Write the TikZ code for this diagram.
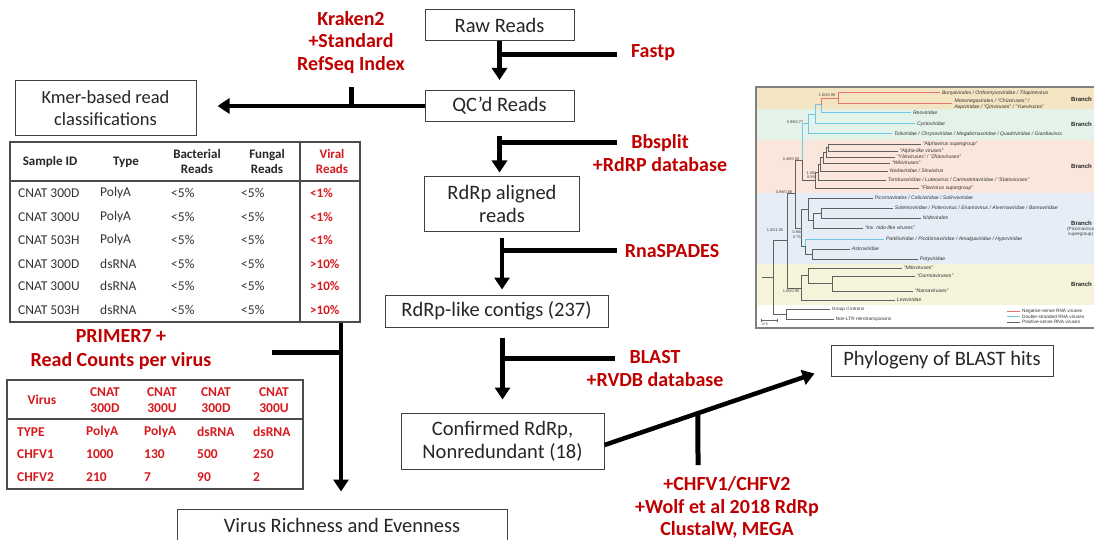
\documentclass[tikz,border=0pt]{standalone}
\usepackage{fontspec}
\setmainfont{Carlito}
\newfontfamily\phyfont{Liberation Sans}
\usetikzlibrary{arrows.meta,calc}
\definecolor{lblred}{HTML}{C00000}
\definecolor{tred}{HTML}{D61A1F}
\definecolor{bandtan}{HTML}{F3E4C2}
\definecolor{bandgreen}{HTML}{E3F3EA}
\definecolor{bandpink}{HTML}{FBE6DC}
\definecolor{bandblue}{HTML}{E6EDF7}
\definecolor{bandyel}{HTML}{F5F3DA}
\definecolor{phyred}{HTML}{E8756C}
\definecolor{phyblue}{HTML}{6FC8EA}
\newcommand{\phyleaf}[5][tr]{\draw[#1] (#3,#2) -- (#4,#2) node[pl] {#5};}
\begin{document}
\begin{tikzpicture}[x=1pt,y=-1pt,
  box/.style={draw=black!75, line width=1pt, fill=white, inner sep=1pt, align=center, text=black!85, font=\fontsize{20.5}{23}\selectfont},
  conn/.style={line width=4.5pt, -{Triangle[width=15pt,length=12pt]}},
  tee/.style={line width=5pt},
  lbl/.style={text=lblred, font=\bfseries\fontsize{20}{22.5}\selectfont, align=center, inner sep=0pt},
  tabframe/.style={draw=black!70, line width=1.2pt, inner sep=0pt},
  tabline/.style={draw=black!70, line width=1.2pt},
  tcell/.style={anchor=west, inner sep=0pt, text=black!80, font=\fontsize{13.5}{15}\selectfont},
  thead/.style={inner sep=0pt, align=center, text=black!85, font=\bfseries\fontsize{13}{15}\selectfont},
  rcell/.style={anchor=west, inner sep=0pt, text=tred, font=\bfseries\fontsize{13.5}{15}\selectfont},
  rhead/.style={inner sep=0pt, align=center, text=tred, font=\bfseries\fontsize{13.5}{16}\selectfont},
  tr/.style={draw=black!62, line width=0.9pt},
  trr/.style={draw=phyred, line width=1pt},
  trb/.style={draw=phyblue, line width=1pt},
  pl/.style={anchor=west, inner sep=0pt, xshift=1.5pt, align=left, font=\phyfont\itshape\fontsize{5.1}{5.5}\selectfont, text=black!80},
  ps/.style={inner sep=0pt, align=center, font=\phyfont\fontsize{3.9}{4.4}\selectfont, text=black!75},
  pb/.style={anchor=west, inner sep=0pt, align=center, font=\phyfont\bfseries\fontsize{6}{6.5}\selectfont, text=black!85},
  pg/.style={anchor=west, inner sep=0pt, font=\phyfont\fontsize{4.7}{5}\selectfont, text=black!80}
]
\useasboundingbox (0,0) rectangle (1094,540);
\fill[white] (0,0) rectangle (1094,540);

% ---------- phylogeny figure ----------
\fill[bandtan] (756,87) rectangle (1100,109);
\fill[bandgreen] (756,109) rectangle (1100,140);
\fill[bandpink] (756,140) rectangle (1100,193);
\fill[bandblue] (756,193) rectangle (1100,264);
\fill[bandyel] (756,264) rectangle (1100,305);
\draw[black!50, line width=1.2pt] (1100,87) -- (756,87) -- (756,328) -- (1100,328);
% red clade
\phyleaf[trr]{93}{838}{940}{Bunyavirales / Orthomyxoviridae / Tilapinevirus}
\draw[trr] (838,104) -- (952,104) node[pl, xshift=0.5pt] {Mononegavirales / “Chūviruses” /\\Aspiviridae / “Qinviruses” / “Yueviruses”};
\draw[trr] (838,93) -- (838,104) (821,98.5) -- (838,98.5) (821,98.5) -- (821,105);
% blue clade
\draw[trb] (821,105) -- (821,113);
\phyleaf[trb]{113}{821}{911}{Reoviridae}
\draw[trb] (815,105) -- (821,105) (815,105) -- (815,124);
\phyleaf[trb]{124}{815}{915}{Cystoviridae}
\draw[trb] (808,114.5) -- (815,114.5) (808,114.5) -- (808,134);
\phyleaf[trb]{134}{808}{892}{Totiviridae / Chrysoviridae / Megabirnaviridae / Quadriviridae / Giardiavirus}
\draw[trb] (802,124) -- (808,124) (802,124) -- (802,160);
\draw[tr] (802,160) -- (802,180) (802,180) -- (815,180);
% pink clade
\phyleaf{144}{828}{921}{“Alphavirus supergroup”}
\phyleaf{151}{828}{898}{“Alpha-like viruses”}
\draw[tr] (828,144) -- (828,151) (826,147.5) -- (828,147.5) (826,147.5) -- (826,157);
\phyleaf{157}{826}{895}{“Yānviruses” / “Zhàoviruses”}
\draw[tr] (823,152) -- (826,152) (823,152) -- (823,163);
\phyleaf{163}{823}{890}{“Wèiviruses”}
\draw[tr] (820,157.5) -- (823,157.5) (820,157.5) -- (820,171);
\phyleaf{171}{820}{888}{Nodaviridae / Sinaivirus}
\draw[tr] (818,164) -- (820,164) (818,164) -- (818,180);
\phyleaf{180}{818}{886}{Tombusviridae / Luteovirus / Carmotetraviridae / “Statoviruses”}
\draw[tr] (815,172) -- (818,172) (815,172) -- (815,188);
\phyleaf{188}{815}{919}{“Flavivirus supergroup”}
% backbone
\draw[tr] (795,160) -- (802,160) (795,160) -- (795,228) (795,228) -- (801,228);
\draw[tr] (787,193) -- (795,193) (787,193) -- (787,288) (787,288) -- (801,288);
\draw[tr] (773,240) -- (787,240) (773,240) -- (773,314) (773,314) -- (786,314) (762,277) -- (773,277);
% picorna clade
\draw[tr] (801,209) -- (801,246) (801,209) -- (808,209) (808,198) -- (808,220);
\phyleaf{198}{808}{873}{Picornavirales / Caliciviridae / Solinviviridae}
\draw[tr] (808,220) -- (813,220) (813,213) -- (813,228);
\phyleaf{228}{813}{863}{“Inv. nido-like viruses”}
\draw[tr] (813,213) -- (821,213) (821,208) -- (821,218);
\phyleaf{208}{821}{893}{Solemoviridae / Polerovirus / Enamovirus / Alvernaviridae / Barnaviridae}
\phyleaf{218}{821}{921}{Nidovirales}
\draw[tr] (801,246) -- (805,246) (805,246) -- (805,254);
\draw[trb] (805,239) -- (805,246);
\phyleaf[trb]{239}{805}{884}{Partitiviridae / Picobirnaviridae / Amalgaviridae / Hypoviridae}
\draw[tr] (805,254) -- (812,254) (812,249) -- (812,259);
\phyleaf{249}{812}{850}{Astroviridae}
\phyleaf{259}{812}{918}{Potyviridae}
% yellow clade
\draw[tr] (801,275.5) -- (801,300) (801,275.5) -- (808,275.5) (808,268) -- (808,283.5) (808,283.5) -- (832,283.5) (832,276) -- (832,291);
\phyleaf{268}{808}{902}{“Mitoviruses”}
\phyleaf{276}{832}{915}{“Ourmiaviruses”}
\phyleaf{291}{832}{913}{“Narnaviruses”}
\phyleaf{300}{801}{895}{Leviviridae}
% outgroup
\draw[tr] (786,309) -- (786,319);
\draw[tr] (786,309) -- (830,309) node[pg, xshift=1.5pt] {Group II introns};
\draw[tr] (786,319) -- (834,319) node[pg, xshift=1.5pt] {Non-LTR retrotransposons};
% support values
\node[ps] at (827,95.5) {1.00/0.99};
\node[ps] at (795,122) {0.99/0.77};
\node[ps] at (791,159) {0.48/0.59};
\node[ps] at (811,175) {1.00/\\0.99};
\node[ps] at (784,192) {0.99/0.88};
\node[ps] at (797,234.5) {0.94/\\0.75};
\node[ps] at (775,230) {1.00/1.00};
\node[ps] at (791,291) {1.00/0.99};
% branch labels
\node[pb] at (1071,99) {Branch};
\node[pb] at (1071,124) {Branch};
\node[pb] at (1071,166) {Branch};
\node[pb] at (1071,223) {Branch};
\node[ps, anchor=west, font=\phyfont\fontsize{4.6}{5}\selectfont] at (1067,231.5) {(Picornavirus\\supergroup)};
\node[pb] at (1071,284) {Branch};
% legend
\draw[trr] (1007,311) -- (1020,311);
\draw[trb] (1007,316.5) -- (1020,316.5);
\draw[tr] (1007,322) -- (1020,322);
\node[pg] at (1022,311) {Negative-sense RNA viruses};
\node[pg] at (1022,316.5) {Double-stranded RNA viruses};
\node[pg] at (1022,322) {Positive-sense RNA viruses};
% scale bar
\draw[black!60, line width=0.6pt] (761,320) -- (777,320) (761,318.5) -- (761,321.5) (777,318.5) -- (777,321.5);
\node[ps] at (765,324.5) {0.5};

% ---------- flow boxes ----------
\node[box, minimum width=149pt, minimum height=31pt] (raw) at (499.5,25.5) {Raw Reads};
\node[box, minimum width=149pt, minimum height=31pt] (qc) at (499.5,106) {QC’d Reads};
\node[box, minimum width=181pt, minimum height=55pt, font=\fontsize{18.5}{21.5}\selectfont] (kmer) at (105.5,108) {Kmer-based read\\classifications};
\node[box, minimum width=155pt, minimum height=54pt] (rdrp) at (502,204) {RdRp aligned\\reads};
\node[box, minimum width=223pt, minimum height=32pt] (contigs) at (496.5,311) {RdRp-like contigs (237)};
\node[box, minimum width=203pt, minimum height=56pt] (confirmed) at (502.5,441) {Confirmed RdRp,\\Nonredundant (18)};
\node[box, minimum width=222pt, minimum height=31pt] (phylo) at (942,360.5) {Phylogeny of BLAST hits};
\node[box, minimum width=330pt, minimum height=32pt] (richness) at (342,525) {Virus Richness and Evenness};

% ---------- red labels ----------
\node[lbl] (kraken) at (351,42.5) {Kraken2\\+Standard\\RefSeq Index};
\node[lbl] (fastp) at (653,53) {Fastp};
\node[lbl] (bbsplit) at (660,153) {Bbsplit\\+RdRP database};
\node[lbl] (spades) at (672,251) {RnaSPADES};
\node[lbl] (blast) at (655,368.5) {BLAST\\+RVDB database};
\node[lbl] (chfv) at (727,507.5) {+CHFV1/CHFV2\\+Wolf et al 2018 RdRp\\ClustalW, MEGA};
\node[lbl, font=\bfseries\fontsize{20}{24}\selectfont] (primer) at (121,350) {PRIMER7 +\\Read Counts per virus};

% ---------- table 1 ----------
\node[tabframe, minimum width=350pt, minimum height=180pt] (tab1) at (185,232) {};
\draw[tabline] (tab1.west |- 0,181) -- (tab1.east |- 0,181);
\draw[tabline] (300,0 |- tab1.north) -- (300,0 |- tab1.south);
\node[thead] (h1) at (50,162) {Sample ID};
\node[thead] (h2) at (126,162) {Type};
\node[thead] (h3) at (197,161.5) {Bacterial\\Reads};
\node[thead] (h4) at (267,161.5) {Fungal\\Reads};
\node[thead, text=tred] (h5) at (332,161.5) {Viral\\Reads};
\foreach \yy/\sid/\typ/\vir [count=\i] in {193/CNAT 300D/PolyA/{<1\%},217/CNAT 300U/PolyA/{<1\%},240/CNAT 503H/PolyA/{<1\%},264/CNAT 300D/dsRNA/{>10\%},286/CNAT 300U/dsRNA/{>10\%},310/CNAT 503H/dsRNA/{>10\%}}{
  \node[tcell] (r\i c1) at (18,\yy) {\sid};
  \node[tcell] (r\i c2) at (100,\yy) {\typ};
  \node[tcell] (r\i c3) at (171,\yy) {<5\%};
  \node[tcell] (r\i c4) at (241,\yy) {<5\%};
  \node[rcell, font=\bfseries\fontsize{13}{15}\selectfont] (r\i c5) at (310,\yy) {\vir};
}

% ---------- table 2 ----------
\node[tabframe, minimum width=296pt, minimum height=109pt] (tab2) at (155,434.5) {};
\draw[tabline] (tab2.west |- 0,419) -- (tab2.east |- 0,419);
\node[rhead] (v0) at (42,400) {Virus};
\node[rhead] (v1) at (105,400) {CNAT\\300D};
\node[rhead] (v2) at (162,400) {CNAT\\300U};
\node[rhead] (v3) at (216,400) {CNAT\\300D};
\node[rhead] (v4) at (274,400) {CNAT\\300U};
\foreach \yy/\a/\b/\c/\d/\e [count=\i] in {432/TYPE/PolyA/PolyA/dsRNA/dsRNA,454/CHFV1/1000/130/500/250,477/CHFV2/210/7/90/2}{
  \node[rcell] (s\i c1) at (17,\yy) {\a};
  \node[rcell] (s\i c2) at (86,\yy) {\b};
  \node[rcell] (s\i c3) at (144,\yy) {\c};
  \node[rcell] (s\i c4) at (197,\yy) {\d};
  \node[rcell] (s\i c5) at (253,\yy) {\e};
}

% ---------- connectors ----------
\coordinate (fastpT) at (617,55);
\coordinate (krakT) at (351,87);
\coordinate (bbT) at (617,143);
\coordinate (spT) at (617,250);
\coordinate (blT) at (615,358);
\coordinate (chT) at (698,465);
\coordinate (prT) at (272,352);
\coordinate (t1out) at ([xshift=156pt]tab1.south);
\coordinate (cfOut) at ([yshift=-4pt]confirmed.east);
\coordinate (phIn) at ([xshift=-16pt,yshift=3pt]phylo.south west);

\draw[conn, shorten >=10pt] (raw.south) -- (raw.south |- qc.north);
\draw[tee] (raw.south |- fastpT) -- (fastpT);

\draw[conn, line width=4pt, shorten >=21pt] (qc.west) -- (kmer.east |- qc.west);
\draw[tee] (krakT) -- (krakT |- qc.west);

\draw[conn, shorten <=14pt, shorten >=4pt] (qc.south) -- (qc.south |- rdrp.north);
\draw[tee] (qc.south |- bbT) -- (bbT);

\draw[conn, shorten <=6pt, shorten >=5pt] (rdrp.south) -- (rdrp.south |- contigs.north);
\draw[tee] (rdrp.south |- spT) -- (spT);

\draw[conn, shorten <=10pt, shorten >=13pt] (confirmed.north |- contigs.south) -- (confirmed.north);
\draw[tee] (confirmed.north |- blT) -- (blT);

\draw[conn] (cfOut) -- (phIn);
\draw[tee] ($(cfOut)!0.445!(phIn)$) -- (chT);

\draw[conn, shorten >=17pt] (t1out) -- (t1out |- richness.north);
\draw[tee] (prT) -- (prT -| t1out);
\end{tikzpicture}
\end{document}
